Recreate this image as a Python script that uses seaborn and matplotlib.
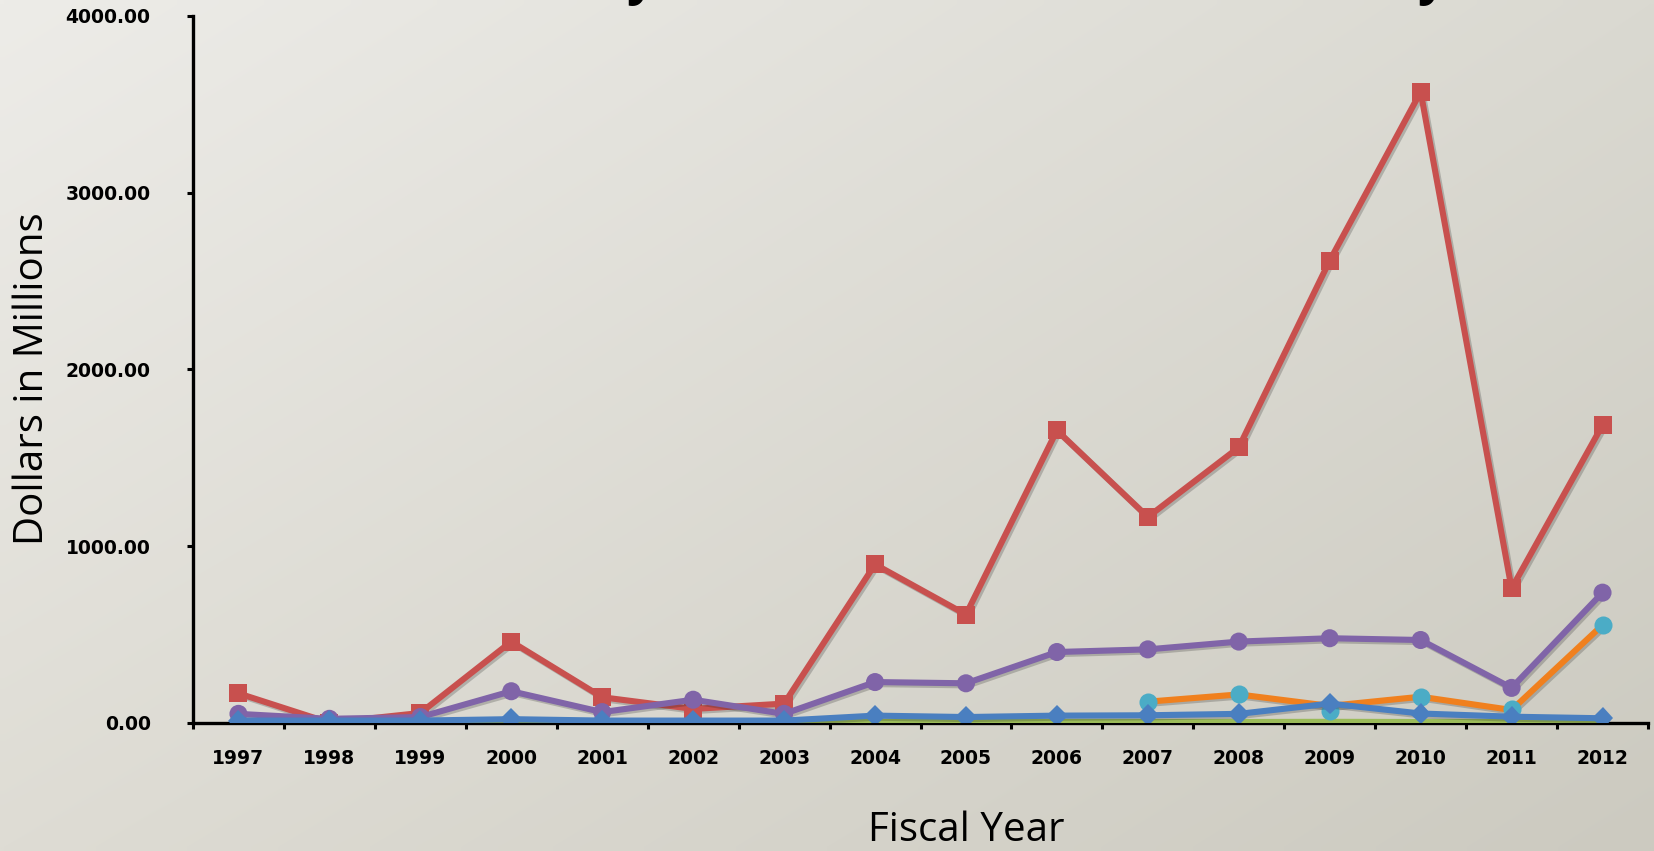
import numpy as np
import matplotlib
matplotlib.use("Agg")
import matplotlib.pyplot as plt
import matplotlib.patheffects as pe
from matplotlib.ticker import FixedLocator, FuncFormatter
import seaborn as sns

# ---------------- data ----------------
years = [1997, 1998, 1999, 2000, 2001, 2002, 2003, 2004,
         2005, 2006, 2007, 2008, 2009, 2010, 2011, 2012]
red_vals = [166, 0, 55, 459, 144, 78, 108, 896, 612, 1654,
            1164, 1558, 2615, 3570, 760, 1684]
purple_vals = [50, 22, 32, 178, 60, 130, 50, 230, 223, 400,
               415, 459, 478, 468, 197, 736]
blue_vals = [12, 12, 12, 20, 12, 12, 12, 40, 32, 40,
             42, 50, 108, 52, 34, 25]
green_vals = [3, 3, 3, 4, 3, 3, 3, 4, 4, 4, 4, 4, 5, 4, 4, 4]
late_years = [2007, 2008, 2009, 2010, 2011, 2012]
cyan_vals = [119, 160, 68, 147, 80, 553]
orange_vals = [119, 160, 95, 147, 72, 553]
y_ticks = [0, 1000, 2000, 3000, 4000]

# ---------------- figure ----------------
sns.set_theme(style="white")
plt.rcParams["font.family"] = ["DejaVu Sans"]

W, H, DPI = 1654, 851, 100
fig = plt.figure(figsize=(W / DPI, H / DPI), dpi=DPI)

# gradient background
bg = fig.add_axes([0, 0, 1, 1], zorder=-10)
gx = np.linspace(0, 1, 200)
gy = np.linspace(0, 1, 100)
GX, GY = np.meshgrid(gx, gy)
tl = np.array([237, 236, 232]) / 255
tr = np.array([218, 217, 209]) / 255
bl = np.array([222, 220, 212]) / 255
br = np.array([204, 202, 192]) / 255
img = (tl[None, None, :] * ((1 - GX) * (1 - GY))[..., None]
       + tr[None, None, :] * (GX * (1 - GY))[..., None]
       + bl[None, None, :] * ((1 - GX) * GY)[..., None]
       + br[None, None, :] * (GX * GY)[..., None])
bg.imshow(img, aspect="auto", extent=[0, 1, 0, 1], interpolation="bilinear")
bg.axis("off")

left = 193 / W
right = 1648 / W
bottom = 1 - 722.7 / H
top = 1 - 15.9 / H
ax = fig.add_axes([left, bottom, right - left, top - bottom])
ax.set_facecolor("none")

shadow = [pe.SimpleLineShadow(offset=(1.5, -1.5), alpha=0.22, shadow_color="k"),
          pe.Normal()]
common = dict(linewidth=4.4, markeredgewidth=0, ax=ax, legend=False,
              path_effects=shadow)

sns.lineplot(x=years, y=red_vals, color="#C8504E", marker="s",
             markersize=13, zorder=3, **common)
sns.lineplot(x=years, y=purple_vals, color="#8064A8", marker="o",
             markersize=13, zorder=4, **common)
sns.lineplot(x=years, y=green_vals, color="#9BBB59", marker="^",
             markersize=12, zorder=5, **common)
sns.lineplot(x=late_years, y=orange_vals, color="#F0801E", marker=None,
             zorder=6, **common)
sns.lineplot(x=late_years, y=cyan_vals, color="#4BACC6", marker="o",
             markersize=13, linewidth=0, markeredgewidth=0, ax=ax,
             legend=False, zorder=7)
sns.lineplot(x=years, y=blue_vals, color="#4A7FC0", marker="D",
             markersize=11, zorder=8, **common)

ax.set_xlim(years[0] - 0.5, years[-1] + 0.5)
ax.set_ylim(0, 4000)

# axes styling
for s in ["top", "right"]:
    ax.spines[s].set_visible(False)
for s in ["left", "bottom"]:
    ax.spines[s].set_color("black")
    ax.spines[s].set_linewidth(2.4)
    ax.spines[s].set_zorder(2)

ax.yaxis.set_major_locator(FixedLocator(y_ticks))
ax.yaxis.set_major_formatter(FuncFormatter(lambda v, p: f"{v:.2f}"))
ax.tick_params(axis="y", which="major", direction="out", length=4.5,
               width=2.2, color="black", pad=26, labelsize=13.5,
               left=True)

ax.xaxis.set_major_locator(FixedLocator(years))
ax.xaxis.set_major_formatter(FuncFormatter(lambda v, p: f"{int(round(v))}"))
ax.xaxis.set_minor_locator(FixedLocator([y + 0.5 for y in [years[0] - 1] + years]))
ax.tick_params(axis="x", which="major", length=0, pad=19, labelsize=13.5,
               bottom=True)
ax.tick_params(axis="x", which="minor", direction="out", length=4.5,
               width=2.2, color="black", bottom=True)
for lab in ax.get_xticklabels() + ax.get_yticklabels():
    lab.set_fontweight("bold")
    lab.set_color("black")
ax.set_xlabel("")
ax.set_ylabel("")
ax.grid(False)

# axis titles
fig.text(966 / W, 1 - 841 / H, "Fiscal Year", family="Open Sans",
         fontsize=29, ha="center", va="baseline", color="black")
fig.text(43 / W, 1 - 379 / H, "Dollars in Millions", family="Open Sans",
         fontsize=29, rotation=90, rotation_mode="anchor",
         ha="center", va="baseline", color="black")

# descenders of the slide title that sits just above the cropped picture
for tx in (641, 1432):
    fig.text(tx / W, 1 + 6 / H, "y", family="Open Sans", fontsize=36,
             fontweight="bold", ha="center", va="baseline", color="black")

fig.savefig("out.png", dpi=DPI)
